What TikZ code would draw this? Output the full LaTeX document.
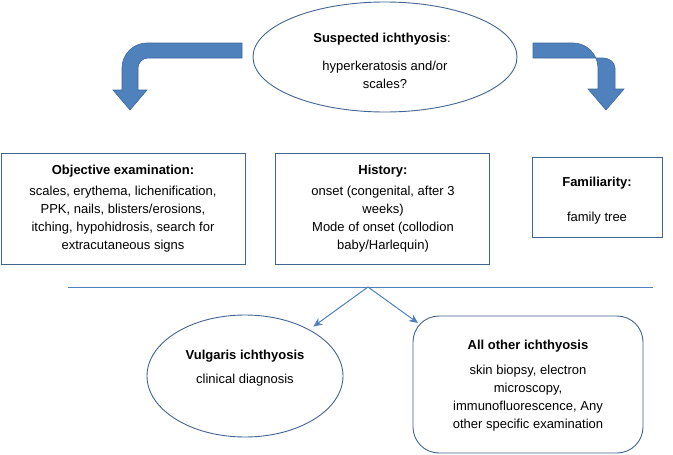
\documentclass[tikz,border=0pt]{standalone}
\usepackage{fontspec}
\setmainfont{Liberation Sans}
\usetikzlibrary{shapes.geometric,arrows.meta}
\definecolor{arrfill}{RGB}{79,129,189}
\definecolor{arrline}{RGB}{60,105,160}
\definecolor{boxline}{RGB}{65,100,145}
\definecolor{conn}{RGB}{79,129,189}
\tikzset{
  txt/.style={font=\fontsize{13}{17.8}\selectfont, align=center, inner sep=0pt},
  boxshape/.style={draw=boxline, line width=0.9pt},
  bent/.style={fill=arrfill, draw=arrline, line width=0.6pt},
  conna/.style={draw=conn, line width=1pt, -{Stealth[length=9pt,width=8pt]}}
}
\begin{document}
\begin{tikzpicture}[x=1pt,y=-1pt]
\useasboundingbox (0,0) rectangle (673,455);
% top ellipse
\node[boxshape, ellipse, minimum width=264pt, minimum height=110pt] (susp) at (385,57) {};
\node[txt] (susptitle) at (382,39) {\textbf{Suspected ichthyosis}:};
\node[txt] (suspbody) at (385,75) {hyperkeratosis and/or\\scales?};
% left bent arrow
\path[bent] (242,43) -- (147,43) .. controls (133.2,43) and (122,54.2) .. (122,68)
  -- (122,90) -- (113,90) -- (130,110) -- (147,90) -- (138,90) -- (138,68)
  .. controls (138,62.5) and (142.5,58) .. (148,58) -- (242,58) -- cycle;
% right bent arrow
\path[bent] (533,43) -- (573,43) .. controls (586.8,43) and (598,54.2) .. (598,68)
  -- (598,89) -- (588,89) -- (606,110) -- (624,89) -- (615,89) -- (615,68)
  .. controls (615,62) and (609,58) .. (603,58) -- (533,58) -- cycle;
% boxes
\node[boxshape, rectangle, minimum width=244pt, minimum height=111pt] (obj) at (123,208.5) {};
\node[txt] (objt) at (123,171) {\textbf{Objective examination:}};
\node[txt] (objb) at (123,219) {scales, erythema, lichenification,\\PPK, nails, blisters/erosions,\\itching, hypohidrosis, search for\\extracutaneous signs};
\node[boxshape, rectangle, minimum width=214pt, minimum height=111pt] (hist) at (382,208.5) {};
\node[txt] (histt) at (383,171) {\textbf{History:}};
\node[txt] (histb) at (383,219) {onset (congenital, after 3\\weeks)\\Mode of onset (collodion\\baby/Harlequin)};
\node[boxshape, rectangle, minimum width=130pt, minimum height=80pt] (fam) at (597,197) {};
\node[txt] (famt) at (597,183) {\textbf{Familiarity:}};
\node[txt] (famb) at (597,218) {family tree};
% separator line
\coordinate (lineL) at (68,287);
\coordinate (lineR) at (653,287);
\coordinate (split) at (368,287);
\draw[draw=conn, line width=1pt] (lineL) -- (lineR);
% bottom shapes
\node[boxshape, ellipse, minimum width=196pt, minimum height=122pt] (vul) at (245,376) {};
\node[txt] (vult) at (245,356) {\textbf{Vulgaris ichthyosis}};
\node[txt] (vulb) at (245,380) {clinical diagnosis};
\node[boxshape, rectangle, rounded corners=26pt, minimum width=230pt, minimum height=137pt] (other) at (528,384.5) {};
\node[txt] (othert) at (528,346) {\textbf{All other ichthyosis}};
\node[txt] (otherb) at (528,398) {skin biopsy, electron\\microscopy,\\immunofluorescence, Any\\other specific examination};
% connectors
\coordinate (endR) at (418,323);
\draw[conna, shorten >=5pt] (split) -- (vul);
\draw[conna] (split) -- (endR);
\end{tikzpicture}
\end{document}
